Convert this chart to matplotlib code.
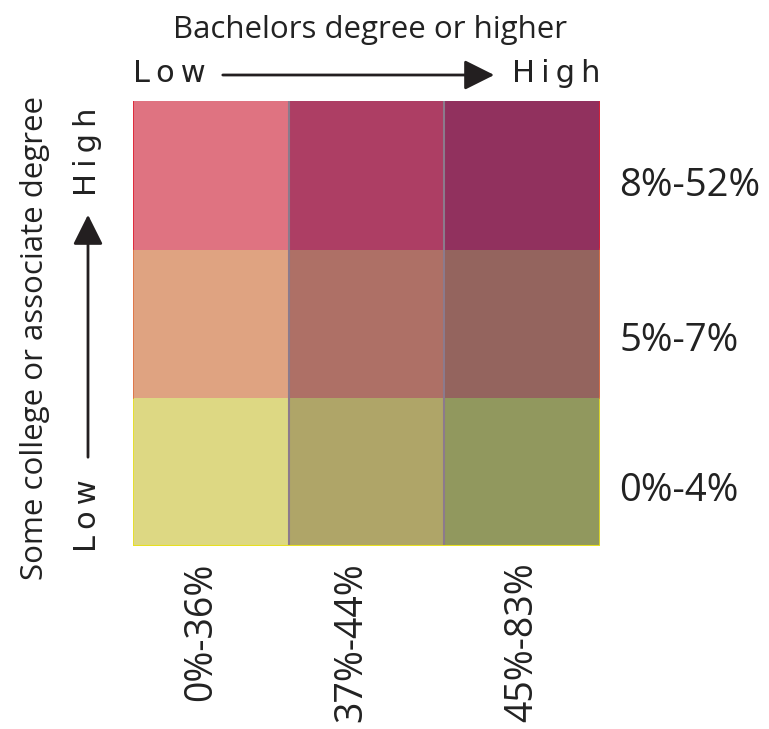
import matplotlib
matplotlib.use("Agg")
import matplotlib.pyplot as plt
from matplotlib.colors import ListedColormap
import numpy as np

# bivariate classes (bachelors = columns, some college = rows, bottom row first)
bachelors_labels = ["0%-36%", "37%-44%", "45%-83%"]
college_labels = ["0%-4%", "5%-7%", "8%-52%"]

cell_colors = [
    ["#DDD883", "#AFA568", "#91985E"],   # 0%-4%
    ["#DFA381", "#AE7066", "#94645E"],   # 5%-7%
    ["#DF7381", "#AD3E64", "#91315E"],   # 8%-52%
]

row_edge_colors = ["#E8E020", "#E07040", "#E02030"]

flat = [c for row in cell_colors for c in row]
grid = np.arange(9).reshape(3, 3)

fig = plt.figure(figsize=(7.69, 7.29), dpi=100)
ax = fig.add_axes([133 / 769, 1 - 546 / 729, 467 / 769, 445 / 729])

ax.imshow(grid, cmap=ListedColormap(flat), origin="lower",
          extent=(0, 3, 0, 3), aspect="auto", interpolation="nearest")

# thin separators between columns
for x in [1, 2]:
    ax.plot([x, x], [0, 3], color="#8C7A8C", lw=1.5)

# coloured outline per row
for i, col in enumerate(row_edge_colors):
    ax.plot([0, 0], [i, i + 1], color=col, lw=1.2)
    ax.plot([3, 3], [i, i + 1], color=col, lw=1.2)
ax.plot([0, 3], [0, 0], color=row_edge_colors[0], lw=1.5)

ax.set_xlim(0, 3)
ax.set_ylim(0, 3)
for s in ax.spines.values():
    s.set_visible(False)

ax.set_xticks([0.44, 1.4, 2.5])
ax.set_xticklabels(bachelors_labels, rotation=90, va="top",
                   fontsize=27, family="Open Sans", color="#222222")
ax.set_yticks([0.4, 1.41, 2.46])
ax.set_yticklabels(college_labels, fontsize=27.5, family="Open Sans",
                   color="#222222")
ax.yaxis.tick_right()
ax.tick_params(axis="x", length=0, pad=12)
ax.tick_params(axis="y", length=0, pad=14)

# top title and arrow
fig.text(370 / 769, 1 - 30 / 729, "Bachelors degree or higher", ha="center",
         va="center", fontsize=22.5, family="Open Sans", color="#222222")
fig.text(133 / 769, 1 - 73 / 729, "L\u2009o\u2009w", ha="left", va="center",
         fontsize=22, family="DejaVu Sans", color="#222222")
fig.text(600 / 769, 1 - 73 / 729, "H\u2009i\u2009g\u2009h", ha="right",
         va="center", fontsize=22, family="DejaVu Sans", color="#222222")
fig.add_artist(matplotlib.patches.FancyArrowPatch(
    (220 / 769, 1 - 75 / 729), (497 / 769, 1 - 75 / 729),
    transform=fig.transFigure, arrowstyle="-|>", mutation_scale=46,
    lw=2, color="#231F20"))

# left title and arrow
fig.text(35 / 769, 1 - 338 / 729, "Some college or associate degree",
         rotation=90, ha="center", va="center", fontsize=22.5,
         family="Open Sans", color="#222222")
fig.text(88 / 769, 1 - 108 / 729, "H\u2009i\u2009g\u2009h", rotation=90,
         ha="center", va="top", fontsize=22, family="DejaVu Sans",
         color="#222222")
fig.text(88 / 769, 1 - 552 / 729, "L\u2009o\u2009w", rotation=90,
         ha="center", va="bottom", fontsize=22, family="DejaVu Sans",
         color="#222222")
fig.add_artist(matplotlib.patches.FancyArrowPatch(
    (88 / 769, 1 - 460 / 729), (88 / 769, 1 - 212 / 729),
    transform=fig.transFigure, arrowstyle="-|>", mutation_scale=46,
    lw=2, color="#231F20"))

fig.savefig("out.png", dpi=100, facecolor="white")
